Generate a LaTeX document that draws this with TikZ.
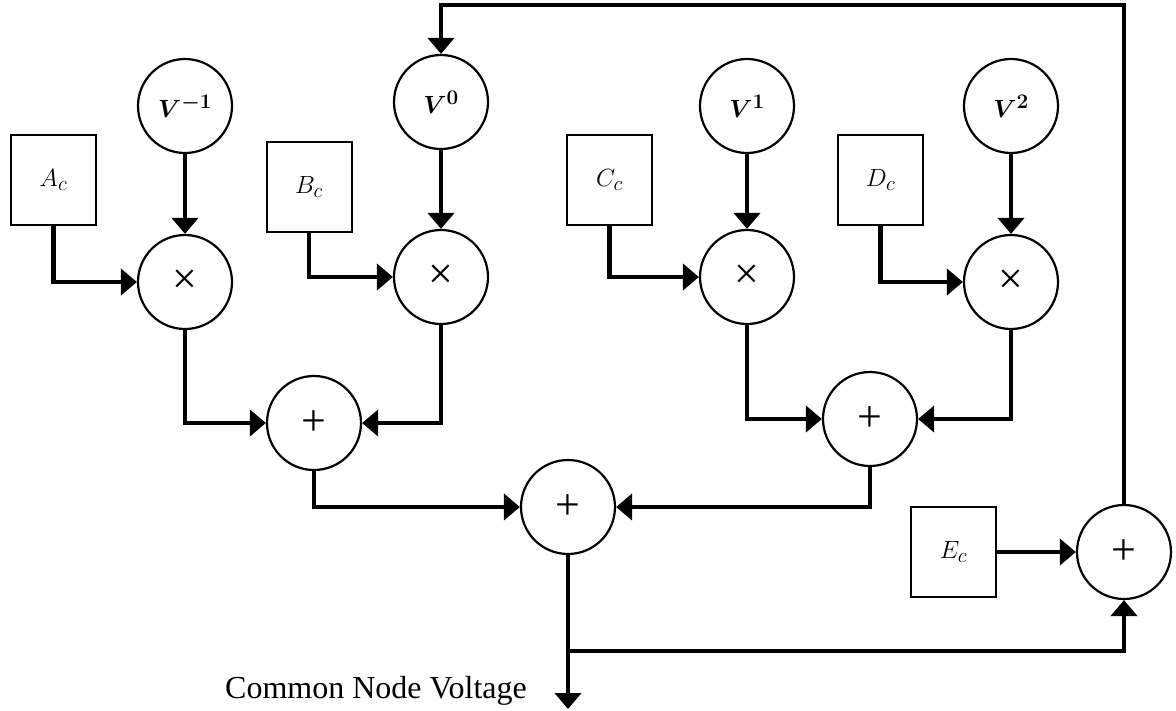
\documentclass[tikz,border=0pt]{standalone}
\usepackage{bm}
\usepackage[no-math]{fontspec}
\setmainfont{Liberation Serif}
\usetikzlibrary{arrows.meta}
\begin{document}
\begin{tikzpicture}[x=1pt,y=-1pt,
  big/.style={font=\fontsize{24.88}{30}\selectfont},
  op/.style={circle,draw,line width=2.2pt,minimum size=94pt,inner sep=0pt,big},
  sym/.style={op,font=\fontsize{44}{48}\selectfont},
  coef/.style={rectangle,draw,line width=2pt,minimum width=85pt,minimum height=90pt,inner sep=0pt,big},
  flow/.style={line width=4.5pt,-{Triangle[length=16pt,width=26pt]},line join=miter}]
\useasboundingbox (0,0) rectangle (1176,710);
% operator circles
\node[op] (vm) at (185,106) {$\bm{V^{-1}}$};
\node[op] (v0) at (441,102) {$\bm{V^{0}}$};
\node[op] (v1) at (747,106) {$\bm{V^{1}}$};
\node[op] (v2) at (1011,106) {$\bm{V^{2}}$};
\node[sym] (m1) at (185,282) {×};
\node[sym] (m2) at (441,277) {×};
\node[sym] (m3) at (747,277) {×};
\node[sym] (m4) at (1011,282) {×};
\node[sym] (s1) at (314,423) {+};
\node[sym] (s2) at (870,419) {+};
\node[sym] (s3) at (568,507) {+};
\node[sym] (s4) at (1124,552) {+};
% coefficient boxes
\node[coef] (a) at (53.5,180) {$A_c$};
\node[coef] (b) at (309,187) {$B_c$};
\node[coef] (c) at (609.5,180) {$C_c$};
\node[coef] (d) at (880.5,180) {$D_c$};
\node[coef] (e) at (953.5,552) {$E_c$};
\node[font=\fontsize{32}{36}\selectfont,anchor=base,inner sep=0pt] (lbl) at (376,698) {Common Node Voltage};
% connectors
\draw[flow] (vm) -- (m1);
\draw[flow] (v0) -- (m2);
\draw[flow] (v1) -- (m3);
\draw[flow] (v2) -- (m4);
\draw[flow] (a.south) |- (m1.west);
\draw[flow] (b.south) |- (m2.west);
\draw[flow] (c.south) |- (m3.west);
\draw[flow] (d.south) |- (m4.west);
\draw[flow] (m1.south) |- (s1.west);
\draw[flow] (m2.south) |- (s1.east);
\draw[flow] (m3.south) |- (s2.west);
\draw[flow] (m4.south) |- (s2.east);
\draw[flow] (s1.south) |- (s3.west);
\draw[flow] (s2.south) |- (s3.east);
\coordinate (out) at (568,709);
\coordinate (br) at (568,651);
\coordinate (top) at (0,5);
\draw[flow] (s3.south) -- (out);
\draw[flow] (br) -| (s4.south);
\draw[flow] (e.east) -- (s4.west);
\draw[flow] (s4.north) -- (s4.north |- top) -| (v0.north);
\end{tikzpicture}
\end{document}
